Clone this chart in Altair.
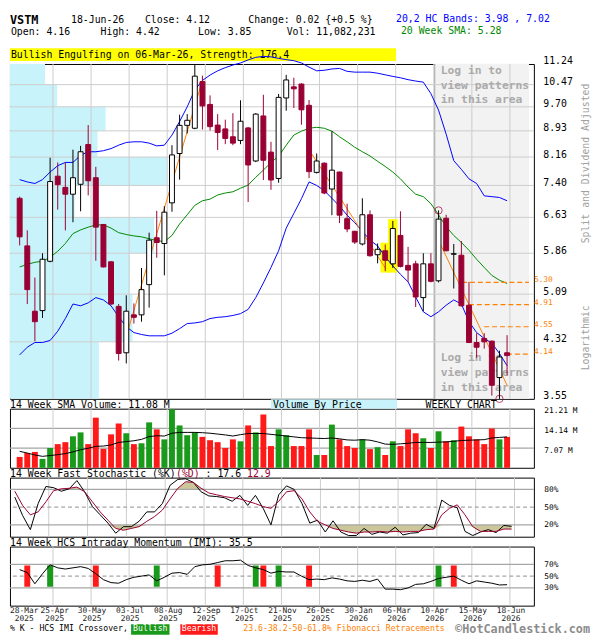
import altair as alt
import pandas as pd

MONO = "DejaVu Sans Mono"
DOWN = "#990033"
GREEN = "#1a9a1a"
RED = "#ff1a1a"
ORANGE = "#ff8000"
GRID = "#cccccc"
REFC = "#a6a6a6"
KHAKI = "#cbc79a"
CYAN = "#c8f3fb"
CW = 6.02

W, H_HEAD, H_MAIN, H_SUB = 532, 42, 340, 60
X_DOM = [-0.625, 66.875]

# ---------------- data ----------------
weeks = list(range(65))
opens = [7.08, 6.01, 4.80, 4.81, 5.70, 7.64, 7.35, 7.18, 7.43, 8.52,
         7.60, 6.47, 5.69, 4.88, 4.16, 4.74, 4.74, 5.26, 6.18, 6.06,
         6.97, 8.26, 9.10, 9.01, 10.58, 9.78, 9.11, 8.99, 8.75, 8.64,
         9.02, 8.05, 9.40, 8.30, 7.58, 10.00, 10.39, 10.49, 9.75, 7.74,
         7.99, 7.31, 7.75, 6.60, 6.32, 6.05, 6.69, 5.83, 5.91, 5.65,
         6.23, 5.62, 5.65, 5.03, 5.65, 5.33, 6.61, 5.84, 5.82, 4.90,
         4.31, 4.37, 4.33, 3.82, 4.16]
highs = [7.12, 6.34, 5.39, 5.86, 8.14, 8.01, 8.01, 8.37, 8.48, 9.11,
         7.89, 6.48, 5.70, 4.92, 5.07, 4.93, 5.57, 6.29, 6.78, 6.89,
         8.50, 9.44, 9.46, 11.20, 10.80, 10.09, 9.46, 9.28, 9.49, 9.92,
         9.05, 9.49, 10.11, 8.60, 10.14, 10.83, 10.72, 10.52, 9.93, 8.26,
         8.01, 8.92, 7.76, 6.95, 6.33, 7.08, 6.79, 6.06, 6.04, 6.55,
         6.77, 5.99, 5.71, 5.86, 5.86, 6.79, 6.69, 6.05, 6.11, 5.31,
         4.45, 4.45, 4.34, 4.19, 4.42]
lows = [6.02, 4.92, 4.33, 4.69, 5.68, 6.81, 6.34, 6.52, 6.77, 7.15,
        5.71, 5.58, 4.90, 4.05, 4.01, 4.60, 4.63, 4.86, 5.77, 5.43,
        6.76, 7.55, 8.85, 8.98, 8.97, 8.94, 8.36, 8.53, 8.50, 8.53,
        6.99, 8.02, 7.54, 7.29, 7.47, 9.57, 9.66, 9.12, 7.59, 7.71,
        7.18, 6.68, 6.50, 6.30, 6.05, 6.02, 5.79, 5.66, 5.51, 5.57,
        5.58, 5.31, 4.87, 4.80, 5.30, 5.30, 5.90, 5.19, 4.88, 4.30,
        4.09, 4.22, 3.59, 3.55, 3.85]
closes = [6.20, 5.17, 4.63, 5.74, 7.50, 7.42, 7.18, 7.60, 8.31, 7.52,
          6.41, 5.59, 4.92, 4.15, 4.80, 4.70, 5.17, 6.13, 6.08, 6.75,
          8.22, 9.10, 9.26, 10.78, 9.73, 9.06, 8.88, 8.70, 8.56, 9.23,
          7.94, 9.46, 8.07, 7.54, 10.02, 10.64, 10.32, 9.60, 7.76, 8.05,
          7.21, 7.80, 6.68, 6.37, 6.09, 6.69, 5.81, 5.94, 5.72, 6.38,
          5.60, 5.53, 5.04, 5.65, 5.32, 6.59, 5.91, 5.85, 4.89, 4.31,
          4.24, 4.32, 3.72, 4.10, 4.12]
upper_band = [7.55, 7.49, 7.45, 7.55, 7.75, 7.92, 8.01, 8.01, 8.21, 8.31,
              8.31, 8.34, 8.40, 8.50, 8.58, 8.60, 8.60, 8.56, 8.48, 8.50,
              8.80, 9.22, 9.70, 10.28, 10.62, 10.82, 10.98, 11.10, 11.20, 11.28,
              11.40, 11.50, 11.54, 11.52, 11.46, 11.41, 11.37, 11.28, 11.12, 10.98,
              11.00, 11.05, 11.07, 10.96, 10.93, 10.93, 10.93, 10.89, 10.83, 10.77,
              10.72, 10.65, 10.60, 10.56, 10.15, 9.59, 8.83, 8.06, 7.82, 7.57,
              7.45, 7.14, 7.12, 7.10, 7.02]
lower_band = [4.13, 4.24, 4.31, 4.31, 4.34, 4.48, 4.68, 4.92, 4.89, 4.94,
              5.03, 4.99, 4.89, 4.71, 4.55, 4.46, 4.43, 4.41, 4.41, 4.41,
              4.45, 4.52, 4.60, 4.61, 4.63, 4.68, 4.70, 4.71, 4.73, 4.76,
              4.83, 5.03, 5.29, 5.58, 5.91, 6.39, 6.72, 7.07, 7.49, 7.40,
              7.27, 7.08, 6.89, 6.68, 6.51, 6.32, 6.13, 6.01, 5.79, 5.61,
              5.45, 5.31, 5.04, 4.79, 4.71, 4.79, 4.90, 4.99, 4.92, 4.63,
              4.46, 4.37, 4.30, 4.15, 3.98]
sma20 = [5.59, 5.64, 5.68, 5.70, 5.78, 5.90, 6.06, 6.27, 6.35, 6.41,
         6.46, 6.46, 6.39, 6.29, 6.25, 6.22, 6.20, 6.16, 6.12, 6.10,
         6.23, 6.48, 6.69, 6.91, 7.02, 7.06, 7.16, 7.21, 7.24, 7.33,
         7.41, 7.61, 7.80, 8.01, 8.18, 8.50, 8.80, 8.92, 9.01, 9.04,
         9.01, 8.92, 8.75, 8.60, 8.44, 8.31, 8.19, 8.04, 7.90, 7.75,
         7.57, 7.36, 7.18, 7.12, 6.95, 6.69, 6.42, 6.23, 6.08, 5.92,
         5.74, 5.58, 5.43, 5.34, 5.28]
volumes = [3.9, 5.3, 5.7, 3.2, 7.1, 8.5, 9.2, 11.3, 12.7, 8.5,
           18.0, 6.8, 12.0, 15.9, 12.4, 8.5, 8.8, 16.3, 13.8, 10.2,
           21.0, 15.2, 11.7, 12.7, 11.1, 9.9, 9.2, 7.1, 10.2, 9.5,
           15.2, 12.7, 19.1, 7.8, 13.8, 11.7, 7.8, 7.8, 13.8, 4.6,
           4.6, 15.5, 10.2, 7.8, 7.1, 10.2, 6.7, 7.4, 4.6, 9.5,
           7.8, 13.8, 12.4, 10.6, 7.1, 13.1, 9.5, 9.9, 14.8, 11.3,
           10.2, 8.5, 14.1, 10.2, 11.08]
vol_sma14 = [5.9, 5.3, 4.6, 4.1, 4.4, 4.7, 5.1, 5.7, 6.5, 7.0,
             7.7, 7.8, 8.2, 9.1, 9.4, 9.7, 10.2, 11.2, 11.5, 11.4,
             12.4, 12.7, 12.7, 12.7, 12.6, 12.4, 12.1, 11.8, 11.4, 11.9,
             12.3, 12.3, 12.3, 12.0, 11.7, 11.4, 11.1, 10.8, 10.7, 10.6,
             10.5, 10.7, 10.4, 10.0, 9.9, 10.1, 9.9, 9.3, 8.5, 8.4,
             8.6, 8.8, 9.1, 9.1, 9.1, 9.2, 9.3, 9.5, 9.8, 9.9,
             10.0, 10.1, 10.7, 10.9, 11.08]
stoch_k = [67, 36, 12, 56, 85, 83, 77, 81, 95, 76,
           51, 37, 23, 6, 17, 17, 26, 42, 42, 56,
           87, 97, 98, 92, 76, 69, 68, 66, 60, 70,
           53, 70, 48, 20, 71, 86, 80, 56, 23, 28,
           8, 27, 8, 2, 2, 14, 4, 8, 6, 16,
           3, 6, 7, 21, 14, 62, 53, 49, 9, 2,
           8, 12, 7, 19, 17.6]
stoch_d = [77, 53, 37, 42, 59, 78, 81, 82, 84, 76,
           59, 42, 28, 14, 11, 14, 17, 26, 34, 45,
           64, 82, 93, 92, 82, 74, 71, 68, 66, 64,
           60, 56, 51, 48, 60, 76, 78, 64, 42, 26,
           20, 14, 11, 8, 6, 8, 8, 9, 8, 9,
           8, 9, 9, 12, 13, 37, 48, 54, 37, 17,
           9, 9, 9, 13, 12.9]
imi = [61, 56, 37, 54, 69, 64, 62, 64, 66, 63,
       54, 44, 39, 38, 44, 48, 50, 52, 42, 48,
       55, 56, 53, 66, 69, 70, 73, 76, 76, 77,
       68, 64, 61, 55, 58, 57, 57, 50, 44, 45,
       44, 47, 45, 42, 41, 43, 41, 45, 28, 28,
       27, 30, 36, 37, 41, 46, 48, 50, 43, 37,
       42, 40, 38, 35, 35.5]
bull_cross = [4, 18, 31, 34, 55]
bear_cross = [1, 10, 26, 32, 38, 57]
CROSS_LO, CROSS_HI = 32, 68

price_ticks = [3.55, 4.32, 5.09, 5.86, 6.63, 7.40, 8.16, 8.93, 9.70, 10.47, 11.24]
vbp_volume = [66, 91, 89, 107, 48, 117, 65, 71, 35, 26]   # M shares per price band (bottom->top)
VBP_MAX = 389
vol_ticks = [7.07, 14.14, 21.21]
stoch_ticks = [20, 50, 80]
imi_ticks = [30, 50, 70]

date_pos = [0.375, 4.375, 9.375, 14.375, 19.375, 24.375, 29.375, 34.375,
            39.375, 44.375, 49.375, 54.375, 59.375, 64.375]
date_lbl = ["28-Mar", "25-Apr", "30-May", "03-Jul", "08-Aug", "12-Sep", "17-Oct",
            "21-Nov", "26-Dec", "30-Jan", "06-Mar", "10-Apr", "15-May", "18-Jun"]
date_year = ["2025"] * 9 + ["2026"] * 5

fib_levels = [4.14, 4.55, 4.91, 5.30]
fib_start = [64.0, 61.0, 59.0, 58.1]
FIB_HIGH_WEEK, FIB_LOW_WEEK = 55, 63

trend_seg = ["a", "a", "b", "b", "c", "c"]
trend_week = [13.8, 24.0, 37.9, 48.1, 55.0, 64.0]
trend_price = [4.33, 10.62, 8.40, 5.55, 6.13, 3.72]

pattern_weeks = [48, 49]
LOGIN_START = 54.5
LAST_VOLUME = 11082231

# ---------------- helpers ----------------
ONE = pd.DataFrame({"o": [0]})
xs = alt.Scale(domain=X_DOM, nice=False, zero=False)


def X(f):
    return alt.X(f, scale=xs, axis=None, title=None)


def label(text, x, y, size=10, color="black", align="left", weight="normal",
          angle=None, baseline="middle"):
    mk = dict(text=text, align=align, baseline=baseline, font=MONO,
              fontSize=size, color=color, fontWeight=weight)
    if angle is not None:
        mk["angle"] = angle
    return alt.Chart(ONE).mark_text(**mk).encode(x=alt.value(x), y=alt.value(y))


def box(x1, x2, y1, y2, color):
    return alt.Chart(ONE).mark_rect(color=color).encode(
        x=alt.value(x1), x2=alt.value(x2), y=alt.value(y1), y2=alt.value(y2))


def axis_right(values, pad, offset, size, expr=None, fmt=None):
    kw = dict(orient="right", values=values, grid=False, ticks=False, tickSize=0,
              domain=False, labelPadding=pad, labelOffset=offset, labelFont=MONO,
              labelFontSize=size, labelColor="black", labelFlush=False,
              labelOverlap=False, title=None)
    if expr:
        kw["labelExpr"] = expr
    if fmt:
        kw["format"] = fmt
    return alt.Axis(**kw)


vgrid_df = pd.DataFrame(dict(pos=date_pos[1:]))


def vgrid():
    return alt.Chart(vgrid_df).mark_rule(color=GRID, strokeWidth=1).encode(x=X("pos:Q"))


# ---------------- header strip ----------------
chg = closes[-1] - closes[-2]
pct = chg / closes[-2] * 100
head = alt.layer(
    label("VSTM", 0, 7, size=12, weight="bold"),
    label("18-Jun-26", 62, 7),
    label(f"Close: {closes[-1]:.2f}", 137, 7),
    label(f"Change: {chg:.2f} {{{pct:+.1f} %}}", 242, 7),
    label(f"Open: {opens[-1]:.2f}", 1, 20),
    label(f"High: {highs[-1]:.2f}", 92, 20),
    label(f"Low: {lows[-1]:.2f}", 191, 20),
    label(f"Vol: {LAST_VOLUME:,}", 281, 20),
    label(f"20,2 HC Bands: {lower_band[-1]:.2f} , {upper_band[-1]:.2f}", 392, 6, color="#0000ff"),
    label(f"20 Week SMA: {sma20[-1]:.2f}", 397, 19, color="#008800"),
    box(0, 392, 36, 49, "#ffff00"),
    label("Bullish Engulfing on 06-Mar-26, Strength: 176.4", 1, 42.5),
).properties(width=W, height=H_HEAD,
             view=alt.ViewBackground(strokeOpacity=0, strokeWidth=0))

# ---------------- main price panel ----------------
ys_main = alt.Scale(type="log", domain=[price_ticks[0], price_ticks[-1]], nice=False, zero=False)
YAX = axis_right(price_ticks, 9, -3, 10, fmt=".2f")


def YM(f):
    return alt.Y(f, scale=ys_main, axis=YAX, title=None)


cd = pd.DataFrame(dict(week=weeks, open=opens, high=highs, low=lows, close=closes))
cd["dir"] = ["up" if c >= o else "down" for o, c in zip(opens, closes)]

vbp_df = pd.DataFrame(dict(lo=price_ticks[:-1], hi=price_ticks[1:], vol=vbp_volume))
vbp_df["zero"] = 0
vbp = alt.Chart(vbp_df).mark_rect(color=CYAN).encode(
    x=alt.X("zero:Q", scale=alt.Scale(domain=[0, VBP_MAX], nice=False), axis=None, title=None),
    x2="vol:Q", y=YM("lo:Q"), y2="hi:Q")

login_df = pd.DataFrame(dict(start=[LOGIN_START], end=[X_DOM[1]],
                             t=["Log in to\nview patterns\nin this area"]))
login_bg = alt.Chart(login_df).mark_rect(color="#f2f2f2").encode(x=X("start:Q"), x2="end:Q")
login_edge = alt.Chart(login_df).mark_rule(color="#9a9a9a", strokeWidth=1).encode(x=X("start:Q"))
login_txt = [alt.Chart(login_df).mark_text(
    align="left", baseline="top", dx=6, font=MONO, fontSize=11.5, fontWeight="bold",
    color="#aaaaaa", lineBreak="\n", lineHeight=15).encode(
    x=X("start:Q"), y=alt.value(yy), text="t:N") for yy in (1, 293)]

hgrid = alt.Chart(pd.DataFrame(dict(p=price_ticks[1:-1]))).mark_rule(
    color=GRID, strokeWidth=1).encode(y=YM("p:Q"))

pat = cd[cd["week"].isin(pattern_weeks)]
pat_low = pat["low"].min() * 0.995
pat_df = pd.DataFrame(dict(x1=pat["week"] - 0.62, x2=pat["week"] + 0.62,
                           y1=pat_low, y2=pat["high"] * 1.006))
pattern = alt.Chart(pat_df).mark_rect(color="#ffff00").encode(
    x=X("x1:Q"), x2="x2:Q", y=YM("y1:Q"), y2="y2:Q")

bands_df = pd.DataFrame(dict(week=weeks, upper=upper_band, lower=lower_band, sma=sma20))
up_line = alt.Chart(bands_df).mark_line(color="#0000ff", strokeWidth=1).encode(
    x=X("week:Q"), y=YM("upper:Q"))
lo_line = alt.Chart(bands_df).mark_line(color="#0000ff", strokeWidth=1).encode(
    x=X("week:Q"), y=YM("lower:Q"))
sma_line = alt.Chart(bands_df).mark_line(color="#008800", strokeWidth=1).encode(
    x=X("week:Q"), y=YM("sma:Q"))

trend_df = pd.DataFrame(dict(seg=trend_seg, week=trend_week, price=trend_price))
trend = alt.Chart(trend_df).mark_line(color=ORANGE, strokeWidth=1).encode(
    x=X("week:Q"), y=YM("price:Q"), detail="seg:N")

fib_df = pd.DataFrame(dict(level=fib_levels, start=fib_start, end=X_DOM[1],
                           lab=[f"{v:.2f}" for v in fib_levels]))
fib_rule = alt.Chart(fib_df).mark_rule(color=ORANGE, strokeWidth=1.2, strokeDash=[5, 3]).encode(
    x=X("start:Q"), x2="end:Q", y=YM("level:Q"))
fib_lab = alt.Chart(fib_df).mark_text(align="left", baseline="middle", dx=5, dy=-2, font=MONO,
                                      fontSize=8, color=ORANGE).encode(
    x=X("end:Q"), y=YM("level:Q"), text="lab:N")

wicks = alt.Chart(cd).mark_rule(strokeWidth=1).encode(
    x=X("week:Q"), y=YM("low:Q"), y2="high:Q",
    color=alt.Color("dir:N", scale=alt.Scale(domain=["up", "down"], range=["black", DOWN]), legend=None))
bodies = alt.Chart(cd).mark_bar(size=5, strokeWidth=1).encode(
    x=X("week:Q"), y=YM("open:Q"), y2="close:Q",
    fill=alt.Fill("dir:N", scale=alt.Scale(domain=["up", "down"], range=["white", DOWN]), legend=None),
    stroke=alt.Stroke("dir:N", scale=alt.Scale(domain=["up", "down"], range=["black", DOWN]), legend=None))

circ_df = pd.DataFrame(dict(week=[FIB_HIGH_WEEK, FIB_LOW_WEEK],
                            price=[highs[FIB_HIGH_WEEK], lows[FIB_LOW_WEEK]]))
circles = alt.Chart(circ_df).mark_point(shape="circle", size=55, filled=False, color=DOWN,
                                        strokeWidth=1).encode(x=X("week:Q"), y=YM("price:Q"))

side = [
    label("Split and Dividend Adjusted", W + 53, 101, color="#a0a0a0", align="center", angle=270),
    label("Logarithmic", W + 53, 278, color="#a0a0a0", align="center", angle=270),
]

inner = alt.layer(login_bg, login_edge, hgrid, vgrid(), *login_txt, pattern,
                  up_line, lo_line, sma_line, trend, fib_rule, fib_lab,
                  wicks, bodies, circles, *side)
main = alt.layer(vbp, inner).resolve_scale(x="independent").properties(width=W, height=H_MAIN)

# ---------------- volume panel ----------------
ys_vol = alt.Scale(domain=[0, vol_ticks[-1]], nice=False, zero=True)
VAX = axis_right(vol_ticks, 10, 2, 8, expr="format(datum.value, '.2f') + ' M'")


def YV(f):
    return alt.Y(f, scale=ys_vol, axis=VAX, title=None)


vd = pd.DataFrame(dict(week=weeks, vol=volumes, sma=vol_sma14, vdir=cd["dir"]))
v_hgrid = alt.Chart(pd.DataFrame(dict(v=vol_ticks[:-1]))).mark_rule(
    color=REFC, strokeWidth=1.2).encode(y=YV("v:Q"))
v_bars = alt.Chart(vd).mark_bar(size=6).encode(
    x=X("week:Q"), y=YV("vol:Q"),
    color=alt.Color("vdir:N", scale=alt.Scale(domain=["up", "down"], range=[GREEN, RED]), legend=None))
v_sma = alt.Chart(vd).mark_line(color="black", strokeWidth=1).encode(x=X("week:Q"), y=YV("sma:Q"))
vol = alt.layer(
    v_hgrid, vgrid(), v_bars, v_sma,
    label(f"14 Week SMA Volume: {vol_sma14[-1]:.2f} M", 0, -4),
    box(265, 393, -9.5, 0, CYAN),
    label("Volume By Price", 267, -4),
    label("WEEKLY CHART", 422, -4),
).properties(width=W, height=H_SUB)

# ---------------- stochastic panel ----------------
ys_pct = alt.Scale(domain=[0, 100], nice=False, zero=True)
SAX = axis_right(stoch_ticks, 10, 0, 8, expr="datum.value + '%'")
IAX = axis_right(imi_ticks, 10, 0, 8, expr="datum.value + '%'")


def YS(f):
    return alt.Y(f, scale=ys_pct, axis=SAX, title=None)


def YI(f):
    return alt.Y(f, scale=ys_pct, axis=IAX, title=None)


sd = pd.DataFrame(dict(week=weeks, k=stoch_k, d=stoch_d))
sd["lo_fill"] = sd["d"].clip(upper=stoch_ticks[0])
sd["f_lo"] = stoch_ticks[0]
sd["hi_fill"] = sd["d"].clip(lower=stoch_ticks[-1])
sd["f_hi"] = stoch_ticks[-1]

s_area_lo = alt.Chart(sd).mark_area(color=KHAKI).encode(x=X("week:Q"), y=YS("lo_fill:Q"), y2="f_lo:Q")
s_area_hi = alt.Chart(sd).mark_area(color=KHAKI).encode(x=X("week:Q"), y=YS("f_hi:Q"), y2="hi_fill:Q")
s_solid = alt.Chart(pd.DataFrame(dict(v=[stoch_ticks[0], stoch_ticks[2]]))).mark_rule(
    color=REFC, strokeWidth=1.3).encode(y=YS("v:Q"))
s_dash = alt.Chart(pd.DataFrame(dict(v=[stoch_ticks[1]]))).mark_rule(
    color=REFC, strokeWidth=1.2, strokeDash=[4, 3]).encode(y=YS("v:Q"))
s_k = alt.Chart(sd).mark_line(color="black", strokeWidth=1).encode(x=X("week:Q"), y=YS("k:Q"))
s_d = alt.Chart(sd).mark_line(color=DOWN, strokeWidth=1).encode(x=X("week:Q"), y=YS("d:Q"))
stoch = alt.layer(
    vgrid(), s_area_lo, s_area_hi, s_solid, s_dash, s_k, s_d,
    label("14 Week Fast Stochastic (%K)", 0, -4),
    label("(%D)", 28 * CW, -4, color=DOWN),
    label(f": {stoch_k[-1]:.1f}", 33 * CW, -4),
    label(f"{stoch_d[-1]:.1f}", 40 * CW, -4, color=DOWN),
).properties(width=W, height=H_SUB)

# ---------------- IMI panel ----------------
imd = pd.DataFrame(dict(week=weeks, imi=imi))
cross_df = pd.DataFrame(dict(week=bull_cross + bear_cross,
                             kind=["bull"] * len(bull_cross) + ["bear"] * len(bear_cross),
                             lo=CROSS_LO, hi=CROSS_HI))
i_solid = alt.Chart(pd.DataFrame(dict(v=[imi_ticks[0], imi_ticks[2]]))).mark_rule(
    color=REFC, strokeWidth=1.3).encode(y=YI("v:Q"))
i_dash = alt.Chart(pd.DataFrame(dict(v=[imi_ticks[1]]))).mark_rule(
    color=REFC, strokeWidth=1.2, strokeDash=[4, 3]).encode(y=YI("v:Q"))
i_cross = alt.Chart(cross_df).mark_bar(size=6).encode(
    x=X("week:Q"), y=YI("lo:Q"), y2="hi:Q",
    color=alt.Color("kind:N", scale=alt.Scale(domain=["bull", "bear"], range=[GREEN, RED]), legend=None))
i_line = alt.Chart(imd).mark_line(color="black", strokeWidth=1).encode(x=X("week:Q"), y=YI("imi:Q"))

YD, YY, YL = H_SUB + 5.5, H_SUB + 13.5, H_SUB + 24
dl = pd.DataFrame(dict(pos=date_pos[2:], d=date_lbl[2:], yr=date_year[2:]))
d_txt = alt.Chart(dl).mark_text(align="center", baseline="middle", dx=1, font=MONO,
                                fontSize=8, color="#222222").encode(
    x=X("pos:Q"), y=alt.value(YD), text="d:N")
y_txt = alt.Chart(dl).mark_text(align="center", baseline="middle", dx=1, font=MONO,
                                fontSize=8, color="#222222").encode(
    x=X("pos:Q"), y=alt.value(YY), text="yr:N")

imi_chart = alt.layer(
    vgrid(), i_solid, i_dash, i_cross, i_line,
    label(f"14 Week HCS Intraday Momentum (IMI): {imi[-1]:.1f}", 0, -4),
    d_txt, y_txt,
    label(date_lbl[0], 14.5, YD, size=8, color="#222222", align="center"),
    label(date_year[0], 14.5, YY, size=8, color="#222222", align="center"),
    label(date_lbl[1], 45.5, YD, size=8, color="#222222", align="center"),
    label(date_year[1], 45.5, YY, size=8, color="#222222", align="center"),
    label("% K - HCS IMI Crossover,", 0, YL, size=8.3),
    box(123, 162, YL - 5, YL + 5.5, GREEN),
    label("Bullish", 142.5, YL, size=8.3, color="white", align="center"),
    box(173, 211, YL - 5, YL + 5.5, RED),
    label("Bearish", 192, YL, size=8.3, color="white", align="center"),
    label("23.6-38.2-50-61.8% Fibonacci Retracements", 237, YL, size=8.3, color=ORANGE),
    label("©HotCandlestick.com", 452, YL - 0.5, size=12, weight="bold", color="#8c8c8c"),
).properties(width=W, height=H_SUB)

chart = alt.vconcat(head, main, vol, stoch, imi_chart, spacing=10, bounds="flush").resolve_scale(
    color="independent", fill="independent", stroke="independent").properties(
    padding={"left": 0, "top": 0, "right": 0, "bottom": 0},
    autosize=alt.AutoSizeParams(type="pad")).configure(
    padding={"left": 0, "top": 0, "right": 0, "bottom": 0}).configure_view(
    stroke="black", strokeWidth=1)

chart.save("out.html", embed_options={"renderer": "svg", "actions": False})
